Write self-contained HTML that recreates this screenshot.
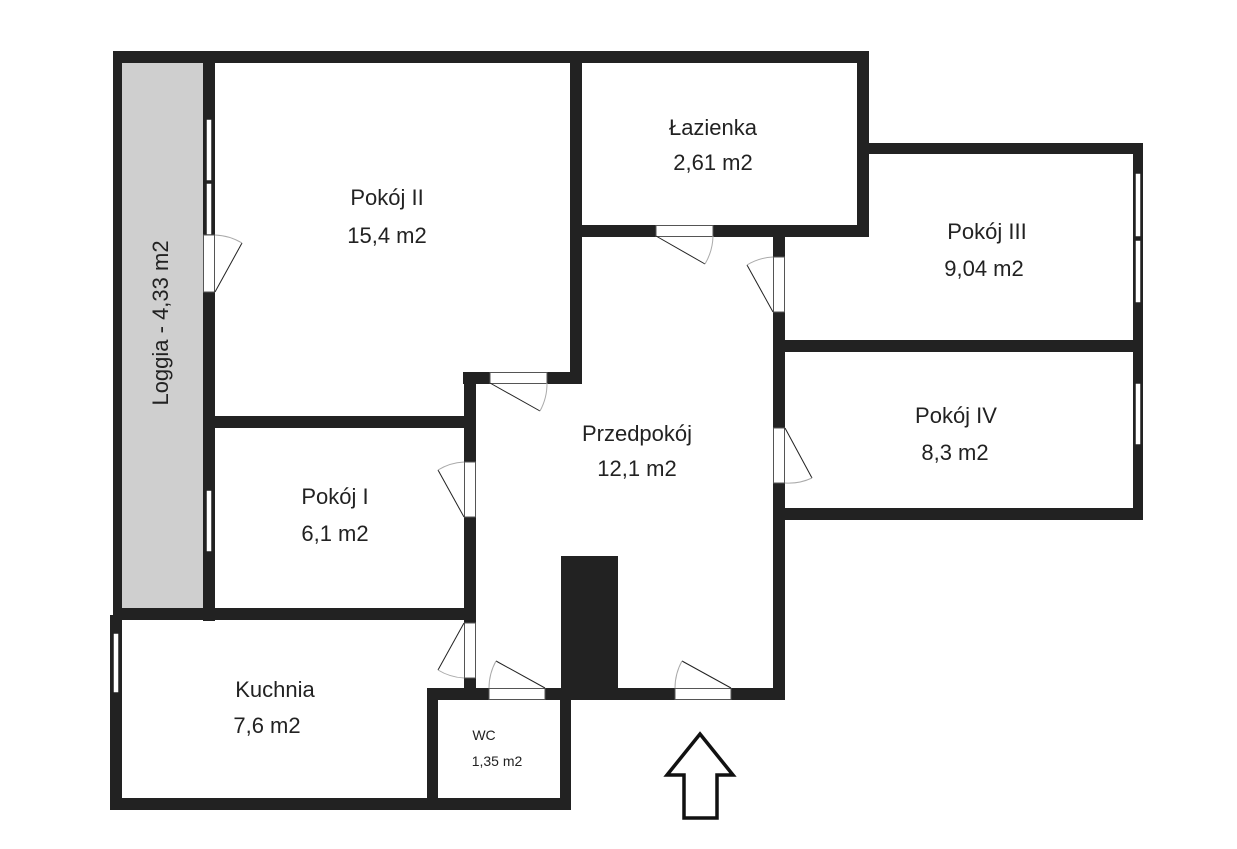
<!DOCTYPE html>
<html><head><meta charset="utf-8"><style>
html,body{margin:0;padding:0;background:#fff;}
svg{display:block;}
text{font-family:"Liberation Sans",sans-serif;fill:#222;text-anchor:middle;}
</style></head><body>
<svg width="1237" height="849" viewBox="0 0 1237 849" xmlns="http://www.w3.org/2000/svg">
<rect x="0" y="0" width="1237" height="849" fill="#fff"/>
<!-- loggia gray -->
<rect x="122" y="62" width="82" height="547" fill="#cfcfcf"/>
<g fill="#222">
<!-- top wall -->
<rect x="113" y="51" width="756" height="12"/>
<!-- loggia left wall -->
<rect x="113" y="51" width="9" height="570"/>
<!-- loggia/pokoj II wall -->
<rect x="203" y="51" width="12" height="570"/>
<!-- Pokoj II right wall -->
<rect x="570" y="51" width="12" height="333"/>
<!-- step wall -->
<rect x="463" y="372" width="119" height="12"/>
<!-- Przedpokoj left wall -->
<rect x="464" y="372" width="12" height="328"/>
<!-- Pokoj II bottom -->
<rect x="203" y="416" width="273" height="12"/>
<!-- Pokoj I bottom -->
<rect x="113" y="608" width="363" height="12"/>
<!-- Lazienka right -->
<rect x="857" y="51" width="12" height="186"/>
<!-- Lazienka bottom -->
<rect x="570" y="225" width="299" height="12"/>
<!-- Pokoj III top -->
<rect x="857" y="143" width="286" height="11"/>
<!-- right outer wall -->
<rect x="1133" y="143" width="10" height="377"/>
<!-- Przedpokoj right wall -->
<rect x="773" y="225" width="12" height="475"/>
<!-- III/IV wall -->
<rect x="773" y="340" width="370" height="12"/>
<!-- IV bottom -->
<rect x="773" y="508" width="370" height="12"/>
<!-- Kuchnia left -->
<rect x="110" y="615" width="12" height="195"/>
<!-- Kuchnia bottom -->
<rect x="110" y="798" width="461" height="12"/>
<!-- WC walls -->
<rect x="427" y="688" width="11" height="122"/>
<rect x="427" y="688" width="357" height="12"/>
<rect x="560" y="688" width="11" height="122"/>
<!-- chimney -->
<rect x="561" y="556" width="57" height="144"/>
<!-- arrow -->
</g>
<!-- windows -->
<g fill="#fff" stroke="#222" stroke-width="1.5">
<rect x="206" y="119" width="6" height="62"/>
<rect x="206" y="183" width="6" height="52"/>
<rect x="206" y="490" width="6" height="62"/>
<rect x="113" y="633" width="6" height="60"/>
<rect x="1135" y="173" width="6" height="64"/>
<rect x="1135" y="240" width="6" height="63"/>
<rect x="1135" y="383" width="6" height="62"/>
</g>
<!-- door gaps -->
<g fill="#fff" stroke="#555" stroke-width="1">
<rect x="203.5" y="235" width="11" height="57"/>
<rect x="490" y="372.5" width="57" height="11"/>
<rect x="656" y="225.5" width="57" height="11"/>
<rect x="773.5" y="257" width="11" height="55"/>
<rect x="773.5" y="428" width="11" height="55"/>
<rect x="464.5" y="462" width="11" height="55"/>
<rect x="464.5" y="623" width="11" height="55"/>
<rect x="489" y="688.5" width="56" height="11"/>
<rect x="675" y="688.5" width="56" height="11"/>
</g>
<!-- door leaves -->
<g fill="none" stroke="#222" stroke-width="1">
<line x1="215" y1="292" x2="242" y2="243"/>
<line x1="490" y1="383" x2="540" y2="411"/>
<line x1="656" y1="236" x2="705" y2="264"/>
<line x1="773" y1="312" x2="747" y2="265"/>
<line x1="785" y1="428" x2="812" y2="478"/>
<line x1="464" y1="517" x2="438" y2="470"/>
<line x1="464" y1="623" x2="438" y2="670"/>
<line x1="545" y1="688" x2="496" y2="661"/>
<line x1="731" y1="688" x2="682" y2="661"/>
</g>
<g fill="none" stroke="#aaa" stroke-width="1">
<path d="M215 235 A57 57 0 0 1 242 243"/>
<path d="M547 383 A57 57 0 0 1 540 411"/>
<path d="M713 236 A57 57 0 0 1 705 264"/>
<path d="M773 257 A55 55 0 0 0 747 265"/>
<path d="M785 483 A55 55 0 0 0 812 478"/>
<path d="M464 462 A55 55 0 0 0 438 470"/>
<path d="M464 678 A55 55 0 0 1 438 670"/>
<path d="M489 688 A56 56 0 0 1 496 661"/>
<path d="M675 688 A56 56 0 0 1 682 661"/>
</g>
<!-- arrow -->
<polygon points="700,734 733,775 717,775 717,818 684,818 684,775 667,775" fill="#fff" stroke="#111" stroke-width="3.5" stroke-linejoin="miter"/>
<!-- labels -->
<g font-size="22">
<text x="387" y="205">Pokój II</text>
<text x="387" y="243">15,4 m2</text>
<text x="713" y="135">Łazienka</text>
<text x="713" y="170">2,61 m2</text>
<text x="987" y="239">Pokój III</text>
<text x="984" y="276">9,04 m2</text>
<text x="956" y="423">Pokój IV</text>
<text x="955" y="460">8,3 m2</text>
<text x="637" y="441">Przedpokój</text>
<text x="637" y="476">12,1 m2</text>
<text x="335" y="504">Pokój I</text>
<text x="335" y="541">6,1 m2</text>
<text x="275" y="697">Kuchnia</text>
<text x="267" y="733">7,6 m2</text>
<text x="0" y="0" transform="translate(168,323) rotate(-90)">Loggia - 4,33 m2</text>
</g>
<text x="484" y="740" font-size="14">WC</text>
<text x="497" y="766" font-size="14">1,35 m2</text>
</svg>
</body></html>
